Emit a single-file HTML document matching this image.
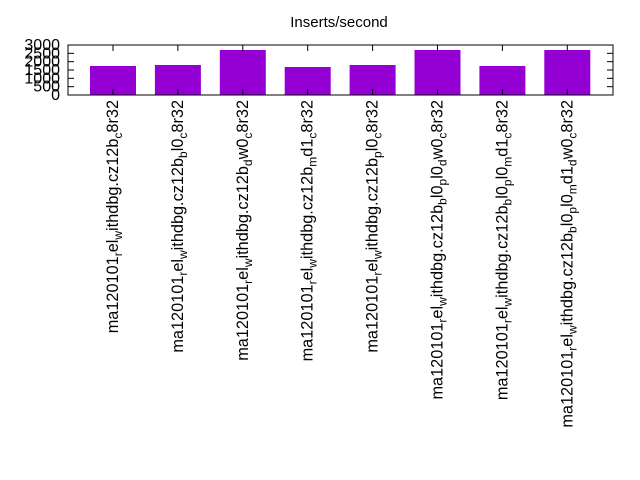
<!DOCTYPE html>
<html><head><meta charset="utf-8"><style>
html,body{margin:0;padding:0;background:#fff;}
svg{display:block;font-family:"Liberation Sans",sans-serif;}
</style></head><body>
<svg id="chart" width="640" height="480" viewBox="0 0 640 480" xmlns="http://www.w3.org/2000/svg">
<rect width="640" height="480" fill="#fff"/>
<text x="339" y="27" font-size="15" text-anchor="middle">Inserts/second</text>
<g id="plot"></g>
</svg>
<script>
const categories = [
 "ma120101_rel_withdbg.cz12b_c8r32",
 "ma120101_rel_withdbg.cz12b_bl0_c8r32",
 "ma120101_rel_withdbg.cz12b_dw0_c8r32",
 "ma120101_rel_withdbg.cz12b_md1_c8r32",
 "ma120101_rel_withdbg.cz12b_pl0_c8r32",
 "ma120101_rel_withdbg.cz12b_bl0_pl0_dw0_c8r32",
 "ma120101_rel_withdbg.cz12b_bl0_pl0_md1_c8r32",
 "ma120101_rel_withdbg.cz12b_bl0_pl0_md1_dw0_c8r32"
];
const values = [1740, 1800, 2700, 1680, 1800, 2700, 1740, 2700];
const yTicks = [0, 500, 1000, 1500, 2000, 2500, 3000];

const NS = "http://www.w3.org/2000/svg";
const L = 68, R = 613, T = 45, B = 95;
const yMax = 3000;
function yPos(v){ return B - (v / yMax) * (B - T); }
function xPos(i){ return 113 + i * 64.9; }
const barW = 46;
const g = document.getElementById('plot');
function mk(tag, attrs){ const e = document.createElementNS(NS, tag); for (const k in attrs) e.setAttribute(k, attrs[k]); g.appendChild(e); return e; }

values.forEach((v, i) => {
  const r = mk('rect', {x: xPos(i) - barW/2, y: yPos(v), width: barW, height: B - yPos(v), fill: '#9400d3'});
  
  
});

const frame = mk('rect', {x: L, y: T, width: R - L, height: B - T, fill: 'none', stroke: '#000', 'stroke-width': 1});



yTicks.forEach(t => {
  const y = yPos(t);
  mk('line', {x1: L, y1: y, x2: L + 6, y2: y, stroke: '#000'});
  mk('line', {x1: R, y1: y, x2: R - 6, y2: y, stroke: '#000'});
  const tx = mk('text', {x: L - 8, y: y + 5, 'font-size': 16, 'text-anchor': 'end'});
  tx.textContent = t;
  
  
});

categories.forEach((c, i) => {
  const x = xPos(i);
  mk('line', {x1: x, y1: B, x2: x, y2: B - 6, stroke: '#000'});
  mk('line', {x1: x, y1: T, x2: x, y2: T + 6, stroke: '#000'});
  const tx = mk('text', {'font-size': 16.3, 'text-anchor': 'end', transform: 'translate(' + (x + 5) + ',100) rotate(-90)'});
  
  
  const parts = c.split('_');
  parts.forEach((p, j) => {
    if (j === 0) {
      const s = document.createElementNS(NS, 'tspan'); s.textContent = p; tx.appendChild(s);
    } else {
      const s1 = document.createElementNS(NS, 'tspan');
      s1.setAttribute('font-size', 12); s1.setAttribute('dy', 4);
      s1.textContent = p[0]; tx.appendChild(s1);
      const s2 = document.createElementNS(NS, 'tspan');
      s2.setAttribute('dy', -4);
      s2.textContent = p.slice(1); tx.appendChild(s2);
    }
  });
});
</script>
</body></html>
